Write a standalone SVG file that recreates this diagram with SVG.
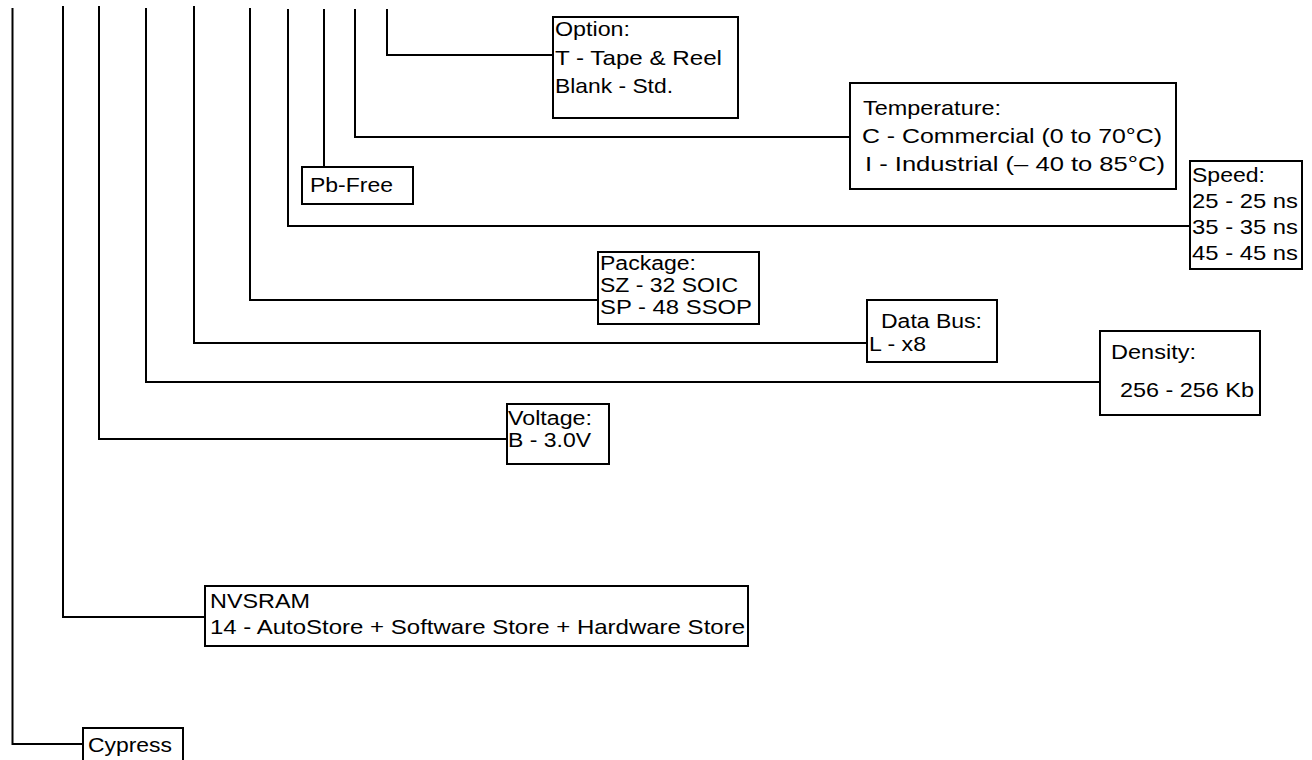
<svg xmlns="http://www.w3.org/2000/svg" width="1312" height="760" viewBox="0 0 1312 760">
<style>
.c{fill:none;stroke:#000;stroke-width:2}
.b{fill:#fff;stroke:#000;stroke-width:2}
text{font-family:"Liberation Sans",Arial,sans-serif;font-size:21px;fill:#000}
.t{font-size:20px}
</style>
<rect width="1312" height="760" fill="#fff"/>
<g id="connectors">
<path class="c" d="M12.5,8 V744 H83"/>
<path class="c" d="M63,6 V617 H205"/>
<path class="c" d="M99,6 V439 H507"/>
<path class="c" d="M146,8 V382 H1100"/>
<path class="c" d="M194,6 V343 H867"/>
<path class="c" d="M250,8 V300 H598"/>
<path class="c" d="M288,9 V226 H1190"/>
<path class="c" d="M324,9 V167"/>
<path class="c" d="M355,9 V137 H850"/>
<path class="c" d="M387,9 V55 H553"/>
</g>
<g id="option">
<rect class="b" x="553" y="17" width="185" height="101"/>
<text x="555" y="36" textLength="75" lengthAdjust="spacingAndGlyphs">Option:</text>
<text x="555" y="65" textLength="167" lengthAdjust="spacingAndGlyphs">T - Tape &amp; Reel</text>
<text x="555" y="93" textLength="118" lengthAdjust="spacingAndGlyphs">Blank - Std.</text>
</g>
<g id="temperature">
<rect class="b" x="850" y="83" width="326" height="106"/>
<text x="863" y="115" textLength="138" lengthAdjust="spacingAndGlyphs">Temperature:</text>
<text x="862" y="143" textLength="300" lengthAdjust="spacingAndGlyphs">C - Commercial (0 to 70°C)</text>
<text x="865" y="171" textLength="300" lengthAdjust="spacingAndGlyphs">I - Industrial (– 40 to 85°C)</text>
</g>
<g id="pbfree">
<rect class="b" x="302" y="167" width="111" height="37"/>
<text x="310" y="192" textLength="83" lengthAdjust="spacingAndGlyphs">Pb-Free</text>
</g>
<g id="speed">
<rect class="b" x="1190" y="161" width="112" height="108"/>
<text x="1192" y="182" textLength="73" lengthAdjust="spacingAndGlyphs">Speed:</text>
<text x="1192" y="208" textLength="106" lengthAdjust="spacingAndGlyphs">25 - 25 ns</text>
<text x="1192" y="234" textLength="106" lengthAdjust="spacingAndGlyphs">35 - 35 ns</text>
<text x="1192" y="260" textLength="106" lengthAdjust="spacingAndGlyphs">45 - 45 ns</text>
</g>
<g id="package">
<rect class="b" x="598" y="252" width="161" height="72"/>
<text class="t" x="600" y="270" textLength="96" lengthAdjust="spacingAndGlyphs">Package:</text>
<text class="t" x="600" y="292" textLength="138" lengthAdjust="spacingAndGlyphs">SZ - 32 SOIC</text>
<text class="t" x="600" y="314" textLength="152" lengthAdjust="spacingAndGlyphs">SP - 48 SSOP</text>
</g>
<g id="databus">
<rect class="b" x="867" y="300" width="130" height="62"/>
<text class="t" x="881" y="328" textLength="101" lengthAdjust="spacingAndGlyphs">Data Bus:</text>
<text class="t" x="869" y="351" textLength="57" lengthAdjust="spacingAndGlyphs">L - x8</text>
</g>
<g id="density">
<rect class="b" x="1100" y="331" width="160" height="84"/>
<text x="1111" y="359" textLength="85" lengthAdjust="spacingAndGlyphs">Density:</text>
<text x="1120" y="397" textLength="134" lengthAdjust="spacingAndGlyphs">256 - 256 Kb</text>
</g>
<g id="voltage">
<rect class="b" x="507" y="404" width="102" height="60"/>
<text class="t" x="508" y="425" textLength="84" lengthAdjust="spacingAndGlyphs">Voltage:</text>
<text class="t" x="508" y="447" textLength="83" lengthAdjust="spacingAndGlyphs">B - 3.0V</text>
</g>
<g id="nvsram">
<rect class="b" x="205" y="586" width="543" height="60"/>
<text x="210" y="608" textLength="100" lengthAdjust="spacingAndGlyphs">NVSRAM</text>
<text x="210" y="634" textLength="535" lengthAdjust="spacingAndGlyphs">14 - AutoStore + Software Store + Hardware Store</text>
</g>
<g id="cypress">
<rect class="b" x="83" y="728" width="100" height="34"/>
<text x="88" y="752" textLength="84" lengthAdjust="spacingAndGlyphs">Cypress</text>
</g>
</svg>
